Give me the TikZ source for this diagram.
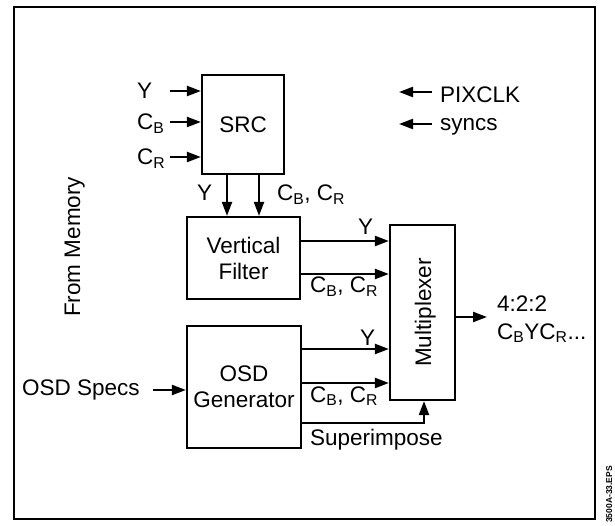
\documentclass[tikz,border=0pt]{standalone}
\usepackage{fontspec}
\setmainfont{Liberation Sans}
\usetikzlibrary{arrows.meta}
\newcommand{\mysub}[1]{\textsubscript{#1}}
\begin{document}
\begin{tikzpicture}[x=1pt,y=-1pt,
  every node/.style={font=\fontsize{22.5}{26}\selectfont, inner sep=0pt},
  box/.style={draw, line width=2.2pt, align=center},
  arr/.style={line width=2.2pt, -{Triangle[length=14pt,width=10pt]}},
  lbl/.style={anchor=base west}]
\useasboundingbox (0,0) rectangle (615,526);
% frame
\node[draw, line width=2.6pt, minimum width=581pt, minimum height=512pt] (frame) at (304.5,263) {};
% boxes
\node[box, minimum width=82pt, minimum height=99pt] (src) at (243,124.5) {SRC};
\node[box, minimum width=113pt, minimum height=82pt] (vf) at (243.5,258) {Vertical\\Filter};
\node[box, minimum width=114pt, minimum height=122pt] (osd) at (244,387) {OSD\\Generator};
\node[box, minimum width=65pt, minimum height=175pt] (mux) at (422.5,312.5) {};
\node[rotate=90, anchor=base west] (muxt) at (431,367) {Multiplexer};
% SRC inputs
\node[lbl] (ly) at (137,99) {Y};
\node[lbl] (lcb) at (137,130) {C\mysub{B}};
\node[lbl] (lcr) at (137,165) {C\mysub{R}};
\coordinate (iy) at (170,91);
\coordinate (icb) at (170,122);
\coordinate (icr) at (170,157);
\draw[arr] (iy) -- (src.west |- iy);
\draw[arr] (icb) -- (src.west |- icb);
\draw[arr] (icr) -- (src.west |- icr);
% SRC to VF
\coordinate (d1) at (227,0);
\coordinate (d2) at (259,0);
\draw[arr] (src.south -| d1) -- (vf.north -| d1);
\draw[arr] (src.south -| d2) -- (vf.north -| d2);
\node[lbl] (ldy) at (197,201) {Y};
\node[lbl] (ldc) at (277,201) {C\mysub{B}, C\mysub{R}};
% VF to MUX
\coordinate (r1) at (0,241);
\coordinate (r2) at (0,274);
\draw[arr] (vf.east |- r1) -- (mux.west |- r1);
\draw[arr] (vf.east |- r2) -- (mux.west |- r2);
\node[lbl] (lvy) at (358,235) {Y};
\node[lbl] (lvc) at (310,293) {C\mysub{B}, C\mysub{R}};
% OSD to MUX
\coordinate (r3) at (0,349);
\coordinate (r4) at (0,383);
\draw[arr] (osd.east |- r3) -- (mux.west |- r3);
\draw[arr] (osd.east |- r4) -- (mux.west |- r4);
\node[lbl] (loy) at (360,345) {Y};
\node[lbl] (loc) at (310,402) {C\mysub{B}, C\mysub{R}};
% superimpose
\coordinate (sp) at (424,423);
\draw[arr] (osd.east |- sp) -| (mux.south -| sp);
\node[lbl] (lsp) at (310,445) {Superimpose};
% OSD specs
\node[lbl] (lspec) at (22,395) {OSD Specs};
\coordinate (os) at (153,390);
\draw[arr] (os) -- (osd.west |- os);
% output
\coordinate (outc) at (487,317);
\draw[arr] (mux.east |- outc) -- (outc);
\node[lbl] (lo1) at (497,312) {4:2:2};
\node[lbl] (lo2) at (497,339) {C\mysub{B}YC\mysub{R}...};
% PIXCLK, syncs
\coordinate (pa) at (432,92);
\coordinate (pb) at (399,92);
\coordinate (sa) at (432,124);
\coordinate (sb) at (399,124);
\draw[arr] (pa) -- (pb);
\draw[arr] (sa) -- (sb);
\node[lbl] (lpix) at (440,103) {PIXCLK};
\node[lbl] (lsync) at (440,131) {syncs};
% From Memory
\node[rotate=90, anchor=base west] (lmem) at (80,317) {From Memory};
% figure tag
\node[rotate=90, anchor=base west, font=\fontsize{8.5}{10}\selectfont\bfseries] (tag) at (612,523) {3500A-33.EPS};
\end{tikzpicture}
\end{document}
